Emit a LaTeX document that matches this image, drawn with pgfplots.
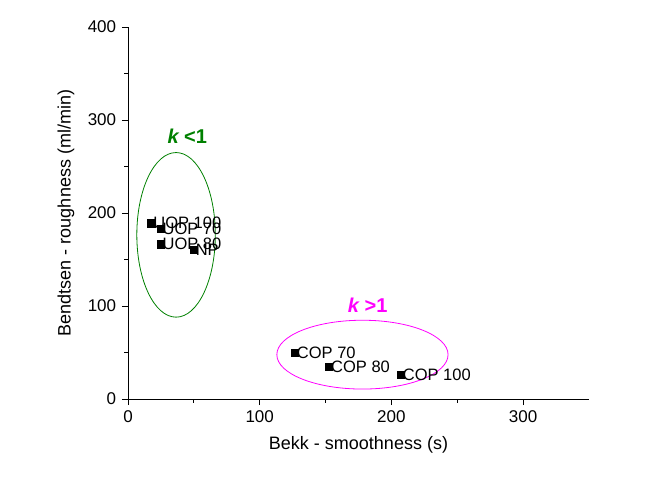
\documentclass[border=0pt]{standalone}
\usepackage{pgfplots}
\pgfplotsset{compat=1.18}
\usepackage{fontspec}
\setmainfont{Liberation Sans}
\definecolor{kgreen}{RGB}{0,128,0}
\definecolor{kmag}{RGB}{255,0,255}

\begin{document}
\begin{tikzpicture}
\fontsize{17}{20}\selectfont
\begin{axis}[
    at={(0pt,0pt)}, anchor=origin,
    scale only axis,
    width=461pt, height=372pt,
    xmin=0, xmax=350, ymin=0, ymax=400,
    axis lines=left,
    axis line style={-, line width=0.8pt},
    tick align=outside,
    major tick length=6pt, minor tick length=3.5pt,
    every tick/.style={black, line width=0.8pt},
    xtick={0,100,200,300}, ytick={0,100,200,300,400},
    minor x tick num=1, minor y tick num=1,
    tick label style={font=\fontsize{17}{20}\selectfont},
    /pgf/number format/assume math mode=true,
    xlabel={Bekk - smoothness (s)},
    ylabel={Bendtsen - roughness (ml/min)},
    label style={font=\fontsize{18}{21}\selectfont},
    xlabel style={yshift=-2pt},
    ylabel style={yshift=2pt},
    clip=false,
]
\addplot[only marks, mark=square*, mark size=3.6pt, black,
    point meta=explicit symbolic,
    nodes near coords,
    every node near coord/.style={anchor=west, inner sep=1pt, xshift=1pt, font=\fontsize{16.5}{19}\selectfont}]
  table[meta=label, col sep=comma] {
x,y,label
17.6,189,UOP 100
24.6,183.5,UOP 70
24.6,166.5,UOP 80
49.8,160.5,NP
126.6,50,COP 70
152.6,34.7,COP 80
207,25.8,COP 100
};
\draw[kgreen, line width=0.8pt] (axis cs:36.5,176.5) ellipse [x radius=29.8, y radius=88.5];
\draw[kmag, line width=0.8pt] (axis cs:178,47.7) ellipse [x radius=65, y radius=37];
\node[kgreen, font=\fontsize{20}{24}\selectfont\bfseries] at (axis cs:45,282) {\itshape k\upshape\ <1};
\node[kmag, font=\fontsize{20}{24}\selectfont\bfseries] at (axis cs:182,101) {\itshape k\upshape\ >1};
\end{axis}
\path[use as bounding box] (-128pt,-78pt) rectangle (540pt,399pt);
\end{tikzpicture}
\end{document}
